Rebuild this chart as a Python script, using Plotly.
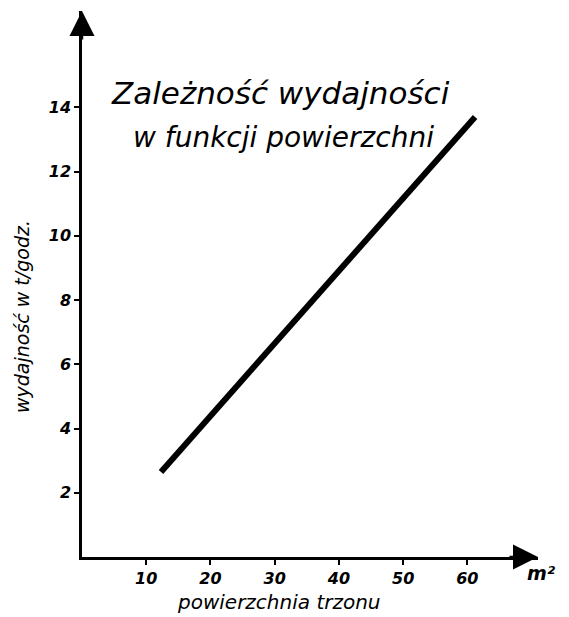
import plotly.graph_objects as go

# Data
surface_m2 = [12.3, 61.2]          # powierzchnia trzonu [m²]
output_t_per_h = [2.65, 13.7]      # wydajność [t/godz.]

x_ticks = [10, 20, 30, 40, 50, 60]
x_tick_labels = ["10", "20", "30", "40", "50", "60"]
y_ticks = [2, 4, 6, 8, 10, 12, 14]
y_tick_labels = ["2", "4", "6", "8", "10", "12", "14"]

title_line1 = "Zależność wydajności"
title_line2 = "w funkcji powierzchni"
y_title = "wydajność w t/godz."
x_title = "powierzchnia trzonu"
x_unit = "m²"

x_range = [0, 71]
y_range = [0, 17]

FONT = "DejaVu Sans"

fig = go.Figure()
fig.add_trace(go.Scatter(
    x=surface_m2, y=output_t_per_h, mode="lines",
    line=dict(color="black", width=6), showlegend=False, hoverinfo="skip",
))

axis_common = dict(
    showgrid=False, zeroline=False, showline=True, linecolor="black", linewidth=2.5,
    ticks="outside", ticklen=5, tickwidth=1.5, tickcolor="black",
    tickfont=dict(family=FONT, size=16, color="black", style="italic", weight="bold"),
)
fig.update_xaxes(range=x_range, tickvals=x_ticks, ticktext=x_tick_labels, **axis_common)
fig.update_yaxes(range=y_range, tickvals=y_ticks, ticktext=y_tick_labels, **axis_common)

# Arrowheads at axis ends
fig.add_annotation(x=x_range[1], y=0, xref="x", yref="y", ax=-30, ay=0,
                   showarrow=True, arrowhead=2, arrowsize=2, arrowwidth=2.5,
                   arrowcolor="black", text="")
fig.add_annotation(x=0, y=y_range[1], xref="x", yref="y", ax=0, ay=30,
                   showarrow=True, arrowhead=2, arrowsize=2, arrowwidth=2.5,
                   arrowcolor="black", text="")

# Title lines
fig.add_annotation(x=0.436, y=0.85, xref="paper", yref="paper", text=title_line1,
                   showarrow=False, xanchor="center", yanchor="middle",
                   font=dict(family=FONT, size=31, color="black", style="italic"))
fig.add_annotation(x=0.441, y=0.769, xref="paper", yref="paper", text=title_line2,
                   showarrow=False, xanchor="center", yanchor="middle",
                   font=dict(family=FONT, size=28, color="black", style="italic"))

# Axis titles
fig.add_annotation(x=-0.132, y=0.441, xref="paper", yref="paper", text=y_title,
                   showarrow=False, textangle=-90, xanchor="center", yanchor="middle",
                   font=dict(family=FONT, size=19, color="black", style="italic"))
fig.add_annotation(x=0.432, y=-0.083, xref="paper", yref="paper", text=x_title,
                   showarrow=False, xanchor="center", yanchor="middle",
                   font=dict(family=FONT, size=20, color="black", style="italic"))
fig.add_annotation(x=1.008, y=-0.03, xref="paper", yref="paper", text=x_unit,
                   showarrow=False, xanchor="center", yanchor="middle",
                   font=dict(family=FONT, size=19, color="black", style="italic", weight="bold"))

# The page body adds an 8px offset; size the figure to fill the rest of the window
fig.update_layout(
    width=561, height=609,
    margin=dict(l=74, r=31, t=3, b=60),
    paper_bgcolor="white", plot_bgcolor="white",
)

fig.write_html("out.html")
